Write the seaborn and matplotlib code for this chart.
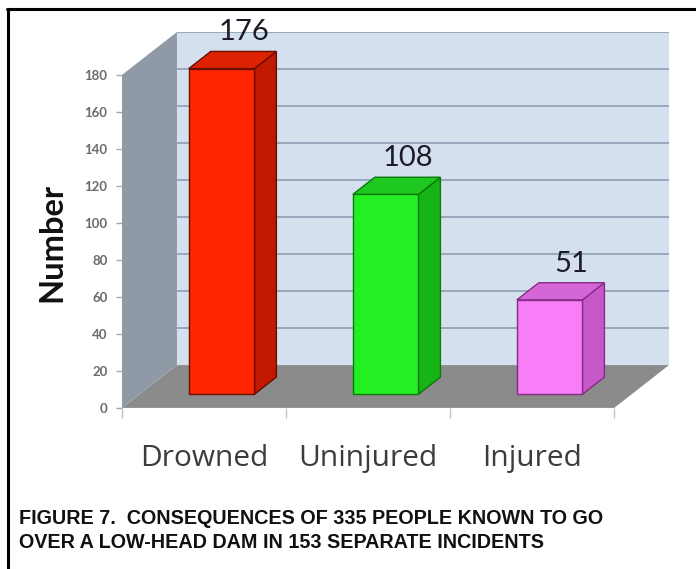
import matplotlib
matplotlib.use("Agg")
import matplotlib.pyplot as plt
from matplotlib.patches import Polygon, Rectangle
from matplotlib.lines import Line2D
import seaborn as sns
import pandas as pd

# Outcome counts
categories = ["Drowned", "Uninjured", "Injured"]
counts = [176, 108, 51]
y_ticks = [0, 20, 40, 60, 80, 100, 120, 140, 160, 180]
caption_lines = [
    "FIGURE 7.  CONSEQUENCES OF 335 PEOPLE KNOWN TO GO",
    "OVER A LOW-HEAD DAM IN 153 SEPARATE INCIDENTS",
]

# Face colours: front, side, top, edge
front_colors = ["#ff2600", "#22f022", "#f77ef7"]
side_colors = ["#bf1a00", "#16b416", "#c658c8"]
top_colors = ["#dc2200", "#1ec81e", "#d466d8"]
edge_colors = ["#6a0d00", "#0b7a0b", "#862c88"]

sns.set_theme(style="white")
plt.rcParams["font.family"] = ["Lato", "DejaVu Sans"]

fig = plt.figure(figsize=(6.96, 5.69), dpi=100)
fig.patch.set_facecolor("white")
ax = fig.add_axes([122 / 696, (569 - 408) / 569, 548 / 696, 376 / 569])

# oblique depth of the chart box (category units, value units)
DX, DY = 0.335, 23.2
# bars sit between these fractions of the depth
F_FRONT, F_DEPTH = 0.32, 0.40
XMAX = 2.5 + DX + 0.006
YMAX = 180 + DY

df = pd.DataFrame({"category": categories, "count": counts})
sns.barplot(data=df, x="category", y="count", hue="category",
            palette=front_colors, saturation=1, width=0.4, legend=False,
            ax=ax, zorder=3)
bars = list(ax.patches)

# back wall, floor and side wall
ax.add_patch(Rectangle((-0.5 + DX, DY), 3, 180, facecolor="#d5e0ee",
                       edgecolor="none", zorder=0))
for v in y_ticks[1:]:
    ax.plot([-0.5 + DX, 2.5 + DX], [v + DY, v + DY], color="#98a8bc",
            lw=1.4, zorder=0.5, solid_capstyle="butt")
ax.add_patch(Polygon([(-0.5, 0), (2.5, 0), (2.5 + DX, DY), (-0.5 + DX, DY)],
                     closed=True, facecolor="#8b8b8b", edgecolor="none",
                     zorder=1))
ax.plot([-0.5, 2.5], [0, 0], color="#c8c8c8", lw=1.0, zorder=1.2)
ax.add_patch(Polygon([(-0.5, 0), (-0.5, 180), (-0.5 + DX, YMAX),
                      (-0.5 + DX, DY)],
                     closed=True, facecolor="#8f9aa6", edgecolor="none",
                     zorder=1))

# turn each flat bar into a box
ox, oy = DX * F_FRONT, DY * F_FRONT
bx, by = DX * F_DEPTH, DY * F_DEPTH
for i, (bar, v) in enumerate(zip(bars, counts)):
    bar.set_x(bar.get_x() + ox)
    bar.set_y(oy)
    bar.set_edgecolor(edge_colors[i])
    bar.set_linewidth(1.0)
    x0 = bar.get_x()
    x1 = x0 + bar.get_width()
    y0 = bar.get_y()
    y1 = y0 + bar.get_height()
    ax.add_patch(Polygon([(x1, y0), (x1 + bx, y0 + by), (x1 + bx, y1 + by),
                          (x1, y1)], closed=True, facecolor=side_colors[i],
                         edgecolor=edge_colors[i], lw=1.0, zorder=2.9))
    ax.add_patch(Polygon([(x0, y1), (x1, y1), (x1 + bx, y1 + by),
                          (x0 + bx, y1 + by)], closed=True,
                         facecolor=top_colors[i], edgecolor=edge_colors[i],
                         lw=1.0, zorder=2.9))
    ax.text((x0 + x1) / 2 + bx, y1 + by + 6, f"{v}", ha="center",
            va="baseline", fontsize=21, color="#1c1c28", clip_on=False,
            zorder=5)

ax.set_xlim(-0.5, XMAX)
ax.set_ylim(0, YMAX)
for s in ax.spines.values():
    s.set_visible(False)
ax.set_facecolor("none")
ax.grid(False)

ax.set_yticks(y_ticks)
ax.set_yticklabels([str(t) for t in y_ticks])
ax.tick_params(axis="y", direction="out", length=4.5, width=1.0,
               color="#a8a8a8", pad=6, labelsize=9.5, labelcolor="#6a6a6a",
               left=True)
for lab in ax.get_yticklabels():
    lab.set_fontweight("bold")

ax.set_xticks([-0.5, 0.5, 1.5, 2.5])
ax.set_xticklabels([])
ax.set_xticks([0, 1, 2], minor=True)
ax.set_xticklabels(categories, minor=True)
ax.tick_params(axis="x", which="major", direction="out", length=7.5,
               width=1.0, color="#c4c4c4", bottom=True)
ax.tick_params(axis="x", which="minor", length=0, pad=26, labelsize=21.5,
               labelcolor="#3c3c3c")
for lab in ax.get_xticklabels(minor=True):
    lab.set_family(["Open Sans", "DejaVu Sans"])
ax.set_xlabel("")
ax.set_ylabel("")

fig.text(52 / 696, (569 - 243) / 569, "Number", rotation=90, ha="center",
         va="center", fontsize=23.5, fontweight="bold", color="#111111")

cap_font = ["Liberation Sans", "DejaVu Sans"]
fig.text(19 / 696, (569 - 524) / 569, caption_lines[0], ha="left",
         va="baseline", fontsize=14.2, fontweight="bold", family=cap_font,
         color="#111111")
fig.text(19 / 696, (569 - 548) / 569, caption_lines[1], ha="left",
         va="baseline", fontsize=14.2, fontweight="bold", family=cap_font,
         color="#111111")

# frame lines on the left and top
fig.add_artist(Line2D([8 / 696, 8 / 696], [0, (569 - 9) / 569],
                      color="black", lw=2.2, transform=fig.transFigure))
fig.add_artist(Line2D([7 / 696, 1], [(569 - 9) / 569, (569 - 9) / 569],
                      color="black", lw=2.2, transform=fig.transFigure))

fig.savefig("out.png", dpi=100)
